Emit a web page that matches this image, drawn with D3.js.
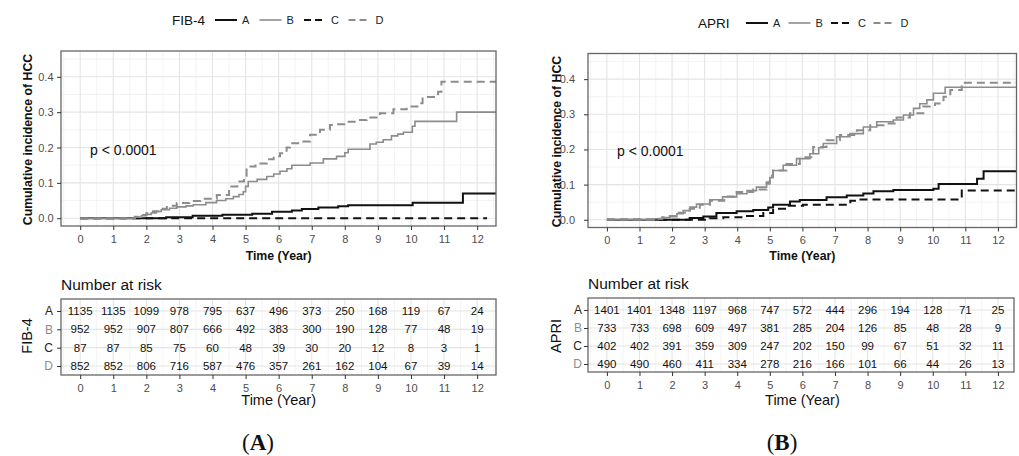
<!DOCTYPE html>
<head>
<meta charset="utf-8">
<script src="https://cdnjs.cloudflare.com/ajax/libs/d3/7.9.0/d3.min.js"></script>
<style>
  body { margin: 0; background: #fff; }
  text { font-family: "Liberation Sans", Arial, sans-serif; }
</style>
</head>
<body>
<div id="chart"></div>
</body>
<script>

// ---- data ----

const groups = ["A", "B", "C", "D"]
const yearTicks = [0, 1, 2, 3, 4, 5, 6, 7, 8, 9, 10, 11, 12]
const incTicks = [0, 0.1, 0.2, 0.3, 0.4]

// FIB-4 cumulative incidence (step times in years, values)
const fibTimeA = [0, 1.6, 2.6, 3.4, 4.3, 5.2, 5.8, 6.4, 6.7, 7.2, 7.8, 8.1, 10.05, 11.57, 12.6]
const fibIncA  = [0, 0, 0.003, 0.007, 0.010, 0.013, 0.018, 0.022, 0.026, 0.030, 0.034, 0.037, 0.044, 0.070, 0.070]
const fibTimeB = [0, 1.65, 1.85, 2.0, 2.15, 2.3, 2.45, 2.7, 2.92, 3.2, 3.42, 3.8, 4.12, 4.4, 4.63, 4.8, 4.93, 5.0, 5.08, 5.35, 5.64, 5.85, 6.04, 6.25, 6.4, 6.95, 7.35, 7.75, 8.0, 8.1, 8.76, 8.95, 9.16, 9.41, 9.6, 9.77, 10.04, 10.12, 11.38, 12.6]
const fibIncB  = [0, 0.003, 0.007, 0.011, 0.015, 0.019, 0.024, 0.028, 0.032, 0.035, 0.038, 0.044, 0.050, 0.055, 0.061, 0.067, 0.075, 0.090, 0.104, 0.110, 0.118, 0.125, 0.133, 0.140, 0.150, 0.156, 0.168, 0.175, 0.185, 0.195, 0.210, 0.215, 0.222, 0.233, 0.238, 0.243, 0.260, 0.274, 0.300, 0.300]
const fibTimeC = [0, 12.3]
const fibIncC  = [0, 0]
const fibTimeD = [0, 1.65, 1.85, 2.0, 2.2, 2.4, 2.62, 2.92, 3.3, 3.63, 4.13, 4.5, 4.75, 4.95, 5.03, 5.3, 5.64, 5.85, 6.04, 6.24, 6.34, 6.65, 6.95, 7.25, 7.55, 7.65, 8.06, 8.46, 8.66, 9.06, 9.47, 9.87, 10.27, 10.35, 10.82, 10.92, 12.6]
const fibIncD  = [0, 0.004, 0.009, 0.014, 0.020, 0.027, 0.035, 0.043, 0.049, 0.055, 0.066, 0.090, 0.104, 0.120, 0.146, 0.155, 0.167, 0.175, 0.184, 0.200, 0.212, 0.217, 0.236, 0.250, 0.264, 0.266, 0.273, 0.278, 0.285, 0.297, 0.308, 0.316, 0.325, 0.343, 0.358, 0.386, 0.386]

// APRI cumulative incidence
const apriTimeA = [0, 1.62, 2.54, 2.96, 3.36, 3.98, 4.49, 4.95, 5.1, 5.62, 5.92, 6.74, 7.36, 7.87, 8.18, 8.79, 10.02, 10.18, 11.36, 11.56, 12.6]
const apriIncA  = [0, 0, 0.005, 0.009, 0.019, 0.024, 0.028, 0.035, 0.043, 0.052, 0.056, 0.064, 0.069, 0.075, 0.081, 0.085, 0.088, 0.102, 0.117, 0.138, 0.138]
const apriTimeB = [0, 1.45, 1.7, 1.93, 2.15, 2.34, 2.55, 2.75, 3.16, 3.55, 3.98, 4.3, 4.59, 4.9, 5.0, 5.1, 5.41, 5.82, 6.23, 6.5, 6.64, 7.05, 7.46, 7.87, 8.28, 8.79, 9.1, 9.41, 9.6, 9.82, 10.02, 10.38, 12.6]
const apriIncB  = [0, 0.003, 0.006, 0.009, 0.017, 0.026, 0.036, 0.045, 0.057, 0.065, 0.074, 0.083, 0.093, 0.102, 0.120, 0.140, 0.155, 0.174, 0.188, 0.205, 0.217, 0.236, 0.245, 0.264, 0.279, 0.284, 0.298, 0.317, 0.330, 0.341, 0.360, 0.377, 0.377]
const apriTimeC = [0, 2.5, 3.15, 3.57, 4.18, 4.8, 5.1, 5.51, 6.02, 7.47, 7.67, 10.89, 12.6]
const apriIncC  = [0, 0, 0.004, 0.007, 0.011, 0.019, 0.031, 0.040, 0.043, 0.054, 0.058, 0.083, 0.083]
const apriTimeD = [0, 1.45, 1.7, 1.93, 2.2, 2.54, 2.85, 3.16, 3.6, 3.98, 4.49, 4.9, 5.0, 5.1, 5.51, 5.92, 6.33, 6.74, 7.15, 7.67, 8.08, 8.49, 8.89, 9.3, 9.71, 10.07, 10.33, 10.54, 10.69, 10.89, 12.6]
const apriIncD  = [0, 0.003, 0.007, 0.011, 0.020, 0.031, 0.043, 0.054, 0.066, 0.079, 0.086, 0.107, 0.125, 0.140, 0.159, 0.178, 0.207, 0.226, 0.241, 0.255, 0.269, 0.274, 0.291, 0.303, 0.322, 0.331, 0.350, 0.369, 0.369, 0.390, 0.390]

// Number at risk tables
const fibRiskA = [1135, 1135, 1099, 978, 795, 637, 496, 373, 250, 168, 119, 67, 24]
const fibRiskB = [952, 952, 907, 807, 666, 492, 383, 300, 190, 128, 77, 48, 19]
const fibRiskC = [87, 87, 85, 75, 60, 48, 39, 30, 20, 12, 8, 3, 1]
const fibRiskD = [852, 852, 806, 716, 587, 476, 357, 261, 162, 104, 67, 39, 14]
const apriRiskA = [1401, 1401, 1348, 1197, 968, 747, 572, 444, 296, 194, 128, 71, 25]
const apriRiskB = [733, 733, 698, 609, 497, 381, 285, 204, 126, 85, 48, 28, 9]
const apriRiskC = [402, 402, 391, 359, 309, 247, 202, 150, 99, 67, 51, 32, 11]
const apriRiskD = [490, 490, 460, 411, 334, 278, 216, 166, 101, 66, 44, 26, 13]

// ---- styling ----

const black = "#111", grey = "#8c8c8c"
const lineStyle = {
    A: {color: black, width: 2, dash: null},
    B: {color: grey, width: 1.6, dash: null},
    C: {color: black, width: 2, dash: "8,5"},
    D: {color: grey, width: 2, dash: "8,5"}
}
const drawOrder = ["C", "A", "B", "D"]
const labelColor = {A: "#222", B: "#8c8c8c", C: "#222", D: "#8c8c8c"}

// layout of the two panels (pixels)
const panels = [
    {
        name: "FIB-4", tag: "A",
        times: [fibTimeA, fibTimeB, fibTimeC, fibTimeD],
        incs: [fibIncA, fibIncB, fibIncC, fibIncD],
        risk: [fibRiskA, fibRiskB, fibRiskC, fibRiskD],
        legend: {x: 172, y: 20, key0: 215, step: 44.5},
        plot: {left: 61, right: 496, top: 51, bottom: 226, tickPad: 3.5},
        yTitleX: 28, pText: {x: 90, y: 154.5},
        table: {left: 61, right: 496, top: 299, bottom: 375, row0: 311, row3: 366, pad: 4},
        tableTitle: {x: 61, y: 290}, groupTitleX: 27,
        tagX: 258
    },
    {
        name: "APRI", tag: "B",
        times: [apriTimeA, apriTimeB, apriTimeC, apriTimeD],
        incs: [apriIncA, apriIncB, apriIncC, apriIncD],
        risk: [apriRiskA, apriRiskB, apriRiskC, apriRiskD],
        legend: {x: 698, y: 23, key0: 746, step: 42.5},
        plot: {left: 588, right: 1016.5, top: 53.5, bottom: 227.5, tickPad: 9},
        yTitleX: 557, pText: {x: 617, y: 156},
        table: {left: 588, right: 1014, top: 298, bottom: 372, row0: 310, row3: 364, pad: 2},
        tableTitle: {x: 588, y: 289}, groupTitleX: 556,
        tagX: 782
    }
]

const W = 1019, H = 456
const svg = d3.select("#chart").append("svg")
    .attr("width", W).attr("height", H)

const xDomain = [-0.58, 12.57]
const yDomain = [-0.022, 0.473]

function styleAxis(ax, size, color) {
    ax.select(".domain").remove()
    ax.selectAll(".tick line").attr("stroke", "#333")
    ax.selectAll(".tick text").attr("font-size", size).attr("fill", color)
        .style("font-family", '"Liberation Sans", Arial, sans-serif')
}

function drawGrid(g, x, y, box, yMajor, yMinor) {
    const xMinor = d3.range(-0.5, 13, 1)
    g.append("rect")
        .attr("x", box.left).attr("y", box.top)
        .attr("width", box.right - box.left).attr("height", box.bottom - box.top)
        .attr("fill", "#fff")
    g.selectAll(null).data(xMinor.filter(d => x(d) > box.left && x(d) < box.right)).join("line")
        .attr("x1", d => x(d)).attr("x2", d => x(d))
        .attr("y1", box.top).attr("y2", box.bottom)
        .attr("stroke", "#f0f0f0").attr("stroke-width", 0.8)
    g.selectAll(null).data(yMinor).join("line")
        .attr("y1", d => y(d)).attr("y2", d => y(d))
        .attr("x1", box.left).attr("x2", box.right)
        .attr("stroke", "#f0f0f0").attr("stroke-width", 0.8)
    g.selectAll(null).data(yearTicks).join("line")
        .attr("x1", d => x(d)).attr("x2", d => x(d))
        .attr("y1", box.top).attr("y2", box.bottom)
        .attr("stroke", "#e4e4e4").attr("stroke-width", 1.1)
    g.selectAll(null).data(yMajor).join("line")
        .attr("y1", d => y(d)).attr("y2", d => y(d))
        .attr("x1", box.left).attr("x2", box.right)
        .attr("stroke", "#e4e4e4").attr("stroke-width", 1.1)
}

function drawBorder(g, box) {
    g.append("rect")
        .attr("x", box.left).attr("y", box.top)
        .attr("width", box.right - box.left).attr("height", box.bottom - box.top)
        .attr("fill", "none").attr("stroke", "#666").attr("stroke-width", 1.3)
}

panels.forEach((p, pi) => {

    const g = svg.append("g")

    // ---- legend ----
    g.append("text").attr("x", p.legend.x).attr("y", p.legend.y + 5)
        .attr("font-size", 13.5).attr("fill", "#111").text(p.name)
    groups.forEach((k, i) => {
        const kx = p.legend.key0 + i * p.legend.step
        const s = lineStyle[k]
        g.append("line")
            .attr("x1", kx).attr("x2", kx + 22)
            .attr("y1", p.legend.y).attr("y2", p.legend.y)
            .attr("stroke", s.color).attr("stroke-width", s.width)
            .attr("stroke-dasharray", s.dash ? "7,4" : null)
        g.append("text").attr("x", kx + 27).attr("y", p.legend.y + 4)
            .attr("font-size", 11).attr("fill", "#222").text(k)
    })

    // ---- cumulative incidence plot ----
    const box = p.plot
    const x = d3.scaleLinear().domain(xDomain).range([box.left, box.right])
    const y = d3.scaleLinear().domain(yDomain).range([box.bottom, box.top])

    drawGrid(g, x, y, box, incTicks, d3.range(0.05, 0.46, 0.1))

    const clipId = "clip" + pi
    g.append("clipPath").attr("id", clipId).append("rect")
        .attr("x", box.left).attr("y", box.top)
        .attr("width", box.right - box.left).attr("height", box.bottom - box.top)

    const line = d3.line()
        .x(d => x(d[0])).y(d => y(d[1]))
        .curve(d3.curveStepAfter)

    drawOrder.forEach(k => {
        const i = groups.indexOf(k)
        const pts = p.times[i].map((t, j) => [t, p.incs[i][j]])
        const s = lineStyle[k]
        g.append("path")
            .attr("clip-path", `url(#${clipId})`)
            .attr("d", line(pts))
            .attr("fill", "none")
            .attr("stroke", s.color).attr("stroke-width", s.width)
            .attr("stroke-dasharray", s.dash)
    })

    drawBorder(g, box)

    const xa = g.append("g").attr("transform", `translate(0,${box.bottom})`)
        .call(d3.axisBottom(x).tickValues(yearTicks).tickSize(4).tickPadding(5))
    styleAxis(xa, 11, "#4d4d4d")
    const ya = g.append("g").attr("transform", `translate(${box.left},0)`)
        .call(d3.axisLeft(y).tickValues(incTicks).tickFormat(d3.format(".1f")).tickSize(4).tickPadding(box.tickPad))
    styleAxis(ya, 11, "#4d4d4d")

    g.append("text")
        .attr("transform", `translate(${p.yTitleX},${(box.top + box.bottom) / 2 + 1}) rotate(-90)`)
        .attr("text-anchor", "middle").attr("dy", "0.35em")
        .attr("font-size", 12.3).attr("font-weight", "bold").attr("fill", "#111")
        .text("Cumulative incidence of HCC")

    g.append("text")
        .attr("x", (x(0) + x(12)) / 2).attr("y", 259.5)
        .attr("text-anchor", "middle")
        .attr("font-size", 12.3).attr("font-weight", "bold").attr("fill", "#111")
        .text("Time (Year)")

    g.append("text").attr("x", p.pText.x).attr("y", p.pText.y)
        .attr("font-size", 14).attr("fill", "#111").text("p < 0.0001")

    // ---- number at risk table ----
    const tb = p.table
    const ty = d3.scalePoint().domain(groups).range([tb.row0, tb.row3])

    g.append("text").attr("x", p.tableTitle.x).attr("y", p.tableTitle.y)
        .attr("font-size", 15.5).attr("fill", "#111").text("Number at risk")

    drawGrid(g, x, ty, tb, groups, [])

    groups.forEach((k, i) => {
        g.selectAll(null).data(p.risk[i]).join("text")
            .attr("x", (d, j) => x(yearTicks[j]))
            .attr("y", ty(k)).attr("dy", "0.36em")
            .attr("text-anchor", "middle")
            .attr("font-size", 11.5).attr("fill", "#111")
            .text(d => d)
    })

    drawBorder(g, tb)

    const txa = g.append("g").attr("transform", `translate(0,${tb.bottom})`)
        .call(d3.axisBottom(x).tickValues(yearTicks).tickSize(4).tickPadding(5))
    styleAxis(txa, 11, "#4d4d4d")
    const tya = g.append("g").attr("transform", `translate(${tb.left},0)`)
        .call(d3.axisLeft(ty).tickSize(4).tickPadding(tb.pad))
    styleAxis(tya, 12, "#222")
    tya.selectAll(".tick text").attr("fill", d => labelColor[d])

    g.append("text")
        .attr("transform", `translate(${p.groupTitleX},336) rotate(-90)`)
        .attr("text-anchor", "middle").attr("dy", "0.35em")
        .attr("font-size", 14.5).attr("fill", "#111").text(p.name)

    g.append("text")
        .attr("x", (x(0) + x(12)) / 2).attr("y", 405)
        .attr("text-anchor", "middle")
        .attr("font-size", 14.5).attr("fill", "#111").text("Time (Year)")

    // panel tag (A) / (B)
    const tag = g.append("text")
        .attr("x", p.tagX).attr("y", 450)
        .attr("text-anchor", "middle")
        .attr("font-size", 23).attr("fill", "#111")
        .style("font-family", '"Liberation Serif", "Times New Roman", serif')
    tag.append("tspan").text("(")
    tag.append("tspan").attr("font-weight", "bold").text(p.tag)
    tag.append("tspan").text(")")
})

</script>
